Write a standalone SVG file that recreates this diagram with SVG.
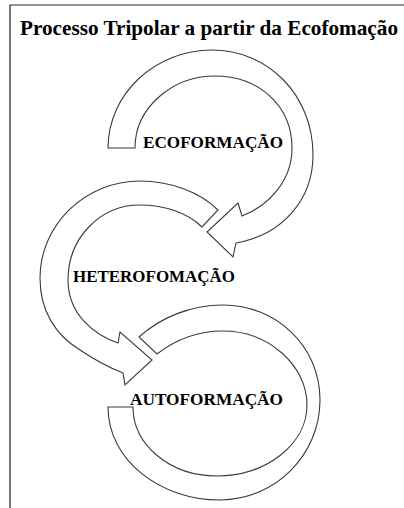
<svg xmlns="http://www.w3.org/2000/svg" width="404" height="508" viewBox="0 0 404 508">
<style>
.frame{fill:none;stroke:#222;stroke-width:1.2}
.arc{fill:#fff;stroke:#3a3a3a;stroke-width:1.1;stroke-linejoin:miter}
.title{font-family:"Liberation Serif","Times New Roman",serif;font-weight:bold;font-size:21px;fill:#000}
.lbl{font-family:"Liberation Serif","Times New Roman",serif;font-weight:bold;font-size:17px;fill:#000}
</style>
<rect width="404" height="508" fill="#fff"/>
<path class="frame" d="M404,5 H10 V508"/>
<text class="title" x="20" y="35" textLength="378" lengthAdjust="spacingAndGlyphs">Processo Tripolar a partir da Ecofomação</text>
<g id="connectors"></g>
<g id="ecoformacao">
<path class="arc" d="M108,148 C108,94 155,50 212,50 C268,50 313,95 313,155 C313,200 282,235 236,243 L233,257 L207,232 L238,203 L242,216 C270,205 292,180 292,148 C292,105 258,76 215,76 C172,76 135,108 135,148 Z"/>
<text class="lbl" x="143" y="147.5" textLength="140" lengthAdjust="spacingAndGlyphs">ECOFORMAÇÃO</text>
</g>
<g id="heterofomacao">
<path class="arc" d="M218,210 C200,192 170,181 140,181 C85,181 40,225 40,278 C40,310 55,335 80,350 C95,360 110,368 123,373 L125,385 L152,360 L120,332 L118,343 C95,335 68,315 68,280 C68,238 100,205 140,205 C165,205 188,213 202,227 Z"/>
<text class="lbl" x="73" y="282" textLength="162" lengthAdjust="spacingAndGlyphs">HETEROFOMAÇÃO</text>
</g>
<g id="autoformacao">
<path class="arc" d="M108,407 C108,460 160,500 220,500 C275,500 320,455 320,400 C320,345 275,305 223,305 C190,305 160,318 139,337 L157,354 C175,340 198,331 223,331 C268,331 307,365 307,405 C307,445 265,476 217,476 C170,476 133,445 133,407 Z"/>
<text class="lbl" x="130" y="405" textLength="153" lengthAdjust="spacingAndGlyphs">AUTOFORMAÇÃO</text>
</g>
</svg>
